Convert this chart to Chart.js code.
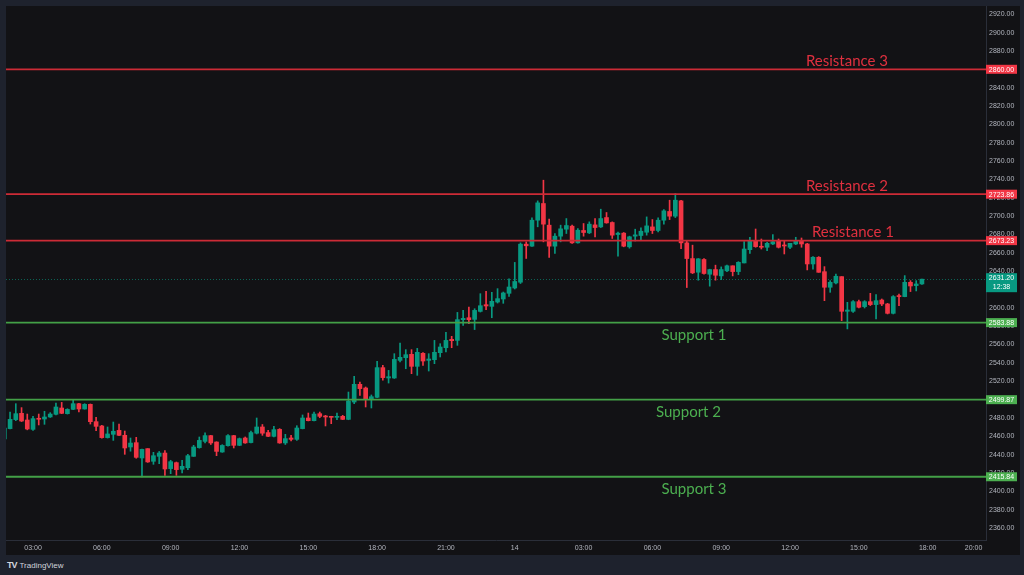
<!DOCTYPE html>
<html>
<head>
<meta charset="utf-8">
<title>Support / Resistance</title>
<script src="https://cdn.jsdelivr.net/npm/chart.js@4.4.1/dist/chart.umd.min.js"></script>
<style>
    html, body { margin: 0; padding: 0; width: 1024px; height: 575px; overflow: hidden; background: #1e222d; }
    #wrap { position: absolute; left: 6px; top: 6px; width: 1014px; height: 549px; background: #121215; }
    #footer { position: absolute; left: 7px; top: 560px; font: 8px 'Liberation Sans', Arial, sans-serif; color: #d1d4dc; }
    #footer b { font-size: 9px; letter-spacing: -1px; margin-right: 3px; }
</style>
</head>
<body>
<div id="wrap"><canvas id="chart"></canvas></div>
<div id="footer"><b>TV</b>TradingView</div>
<script>
/**=================
 * Data
 =================*/
// 15-minute slot of the first candle, counted from 00:00 on the 13th
const firstSlot = 7;

const opens = [
    2457, 2468.3, 2478.1, 2485, 2477.7, 2467.5, 2479.5, 2478.8, 2481, 2483.9,
    2490.8, 2484.6, 2489.3, 2495.5, 2489.7, 2494.8, 2475.9, 2471.2, 2458.5, 2462.1,
    2466.4, 2461, 2448.3, 2453, 2436.3, 2446.5, 2432.7, 2438.1, 2441.7, 2424.7,
    2431.2, 2424, 2425.7, 2438.1, 2447.6, 2454.4, 2460.7, 2453.7, 2442.8, 2449.7,
    2460.7, 2450.1, 2458.1, 2453.1, 2463.3, 2470.1, 2464, 2459.9, 2467.5, 2452.7,
    2458.1, 2456.6, 2468.3, 2479.9, 2477, 2484.6, 2482.1, 2481.7, 2480.6, 2481.7,
    2478.4, 2497.3, 2516.6, 2512.6, 2499.9, 2502.4, 2534.8, 2523.5, 2523.5, 2542.7,
    2545.6, 2549.3, 2536.2, 2550.4, 2542.7, 2543.5, 2551.1, 2556.5, 2565.6, 2564.5,
    2587.1, 2589.2, 2587.4, 2596.1, 2603.4, 2601.6, 2606.3, 2609.6, 2615.8, 2621.6,
    2627.9, 2669.4, 2667.2, 2695.5, 2713.7, 2690.1, 2667.2, 2678.1, 2685.7, 2689,
    2670.8, 2684.3, 2681.7, 2690.4, 2688.2, 2698.4, 2693, 2679.9, 2681.4, 2666.5,
    2678.1, 2678.8, 2682.4, 2688.2, 2684.3, 2695.5, 2705, 2699.9, 2716.6, 2670.8,
    2653.7, 2638.8, 2652.7, 2636.6, 2641.7, 2634.8, 2640.3, 2645.8, 2639.5, 2648.9,
    2663.4, 2672.5, 2667.1, 2666, 2669.6, 2672.5, 2668.5, 2666, 2669.6, 2673.2,
    2669.6, 2647.8, 2655.1, 2639.4, 2622.4, 2627.1, 2634, 2596.2, 2596.2, 2606.7,
    2601.3, 2606.7, 2603.5, 2608.5, 2604.2, 2594, 2613.3, 2612.2, 2627.8, 2624.2,
    2626
];
const highs = [
    2469, 2486.4, 2495.5, 2491.2, 2484.2, 2481.7, 2484.2, 2487.2, 2485.7, 2496.2,
    2496.9, 2490, 2499.9, 2495.8, 2495.5, 2495.2, 2480.6, 2471.9, 2470.1, 2475.5,
    2473.3, 2465.7, 2458.1, 2458.8, 2446, 2446.5, 2442.5, 2443.4, 2444.5, 2433.8,
    2431.9, 2433.8, 2440.3, 2450.1, 2459.2, 2463.6, 2461, 2454, 2450.8, 2461.8,
    2461, 2458.1, 2459.2, 2465.7, 2479.9, 2472.8, 2466.4, 2470.8, 2468.3, 2462.1,
    2461, 2471.5, 2483.2, 2485.3, 2486.4, 2486.4, 2482.8, 2481.8, 2485.3, 2482.8,
    2508.2, 2525.3, 2519.1, 2513.7, 2505, 2541.7, 2537.3, 2531.8, 2550, 2561.6,
    2554.4, 2554.4, 2555.8, 2551.1, 2550, 2564.5, 2560.9, 2573.3, 2568.9, 2595,
    2597.2, 2600.9, 2599, 2615.4, 2618, 2616.9, 2620.9, 2617.2, 2631.5, 2649.5,
    2670.8, 2671.9, 2698.1, 2716.6, 2739.1, 2696.6, 2681, 2690.1, 2697.3, 2690.1,
    2686.4, 2691.9, 2693.7, 2697.3, 2707.5, 2703.9, 2693.7, 2682.5, 2682.1, 2678.1,
    2685.7, 2687.2, 2699.1, 2696.2, 2698.1, 2707.1, 2717.3, 2724.6, 2717.3, 2673,
    2668.3, 2653.7, 2653.7, 2642.1, 2646.5, 2644.6, 2646.5, 2645.8, 2650.3, 2672.1,
    2676.9, 2685.9, 2675, 2671.4, 2679.8, 2675, 2673.2, 2670.3, 2676.9, 2676.1,
    2670.3, 2655.8, 2655.8, 2644.9, 2629.6, 2636.9, 2634, 2606, 2607.8, 2608.5,
    2607.8, 2615.8, 2614.4, 2609.6, 2604.9, 2613.3, 2615.1, 2635.1, 2629.6, 2629.6,
    2631.4
];
const lows = [
    2456, 2468, 2477, 2476, 2467, 2466.4, 2472.3, 2473, 2480.5, 2483.2,
    2484.6, 2484.2, 2489, 2486.4, 2489.5, 2473.3, 2466, 2458, 2458, 2455.5,
    2460.5, 2440.3, 2443.7, 2436, 2415.6, 2431.5, 2429.4, 2430.1, 2417.4, 2419.2,
    2417.4, 2420, 2423.6, 2438, 2447, 2452.7, 2451, 2438.8, 2442.5, 2449.3,
    2447.2, 2449.7, 2452.3, 2452.7, 2462.5, 2461, 2459.6, 2459.2, 2452.3, 2451,
    2454.8, 2455.5, 2468, 2476.7, 2476.7, 2480.2, 2471.2, 2473.7, 2478.1, 2478.1,
    2478, 2495.5, 2504.6, 2491.9, 2490.8, 2502, 2521, 2518, 2523, 2540.9,
    2533.6, 2528.2, 2526.4, 2537.3, 2531.1, 2539.1, 2546.4, 2551.8, 2556.5, 2559.1,
    2580.9, 2582.7, 2576.3, 2595.4, 2598, 2589.2, 2605.2, 2604.9, 2612.5, 2620.5,
    2626.5, 2653.8, 2667, 2688.3, 2671.9, 2654.8, 2659.2, 2671.9, 2681, 2670.1,
    2670.5, 2678.1, 2680.9, 2677.4, 2687.5, 2692.2, 2675.6, 2656.3, 2666.5, 2665,
    2672.8, 2673.7, 2679.2, 2681, 2682.8, 2691.2, 2696.2, 2698.4, 2664.6, 2622.1,
    2637.3, 2630.1, 2636.6, 2623.6, 2630.1, 2630.8, 2639.5, 2634.8, 2636.2, 2648.9,
    2659.4, 2666, 2664.1, 2662.3, 2668.9, 2665.2, 2658.7, 2664.5, 2668.9, 2666,
    2641.3, 2642, 2638.7, 2607.8, 2616.9, 2626, 2586, 2577, 2595, 2599.8,
    2599.8, 2602.4, 2587.9, 2602.4, 2593.3, 2593.3, 2602.4, 2612, 2617.7, 2618.4,
    2625.6
];
const closes = [
    2469, 2478.4, 2484.6, 2476.6, 2467.9, 2479.2, 2478.5, 2481, 2484.2, 2491.9,
    2485, 2489.3, 2495.5, 2489.7, 2494.8, 2475.9, 2470.8, 2458.5, 2462.5, 2465.4,
    2461, 2447.2, 2452.6, 2437, 2445.7, 2432, 2438.8, 2441.7, 2424.3, 2432.3,
    2423.6, 2427.2, 2438.8, 2448.3, 2455.5, 2460.7, 2452.7, 2443.5, 2450, 2460.7,
    2450.1, 2457.4, 2452.7, 2464, 2470.1, 2463.3, 2459.9, 2467.2, 2452.7, 2457.4,
    2456.6, 2469, 2479.9, 2477, 2484.2, 2481.7, 2481, 2480.6, 2481.7, 2478.4,
    2498.4, 2516.6, 2511.9, 2499.9, 2503.1, 2534.8, 2523.9, 2524.9, 2543.8, 2546,
    2548.9, 2536.2, 2551.5, 2542, 2544.2, 2551.5, 2557.3, 2564.5, 2564.2, 2587.1,
    2588.5, 2587.1, 2597.2, 2602.3, 2602, 2607.1, 2610, 2616.2, 2622.7, 2628.7,
    2669.4, 2667.6, 2695.5, 2714.4, 2691.2, 2667.2, 2678.1, 2686.1, 2689.7, 2670.8,
    2684.6, 2682.1, 2691.2, 2687.5, 2697.3, 2692.6, 2679.2, 2681.4, 2667.2, 2677.4,
    2679.5, 2683.5, 2689.3, 2684.3, 2695.5, 2705.7, 2699.9, 2717.3, 2670.8, 2653.7,
    2638.1, 2653.4, 2637.4, 2641.7, 2635.5, 2641.7, 2645.8, 2639.5, 2649.6, 2664.1,
    2672.5, 2666.7, 2666, 2670.3, 2672.1, 2666, 2667.4, 2670.3, 2673.2, 2669.6,
    2647.8, 2655.1, 2638.7, 2622.4, 2627.8, 2634.4, 2596.2, 2597.6, 2606.7, 2600.6,
    2606.7, 2603.5, 2607.8, 2604.2, 2594, 2612.2, 2612.2, 2627.8, 2623.8, 2626,
    2631.2
];

const timeTickSlots = [12, 24, 36, 48, 60, 72, 84, 96, 108, 120, 132, 144, 156, 168, 176];
const timeTickLabels = ['03:00', '06:00', '09:00', '12:00', '15:00', '18:00', '21:00', '14',
    '03:00', '06:00', '09:00', '12:00', '15:00', '18:00', '20:00'];
const priceTicks = [2360, 2380, 2400, 2420, 2440, 2460, 2480, 2500, 2520, 2540, 2560, 2580,
    2600, 2620, 2640, 2660, 2680, 2700, 2720, 2740, 2760, 2780, 2800, 2820, 2840, 2860,
    2880, 2900, 2920];

const levelNames = ['Resistance 3', 'Resistance 2', 'Resistance 1', 'Support 1', 'Support 2', 'Support 3'];
const levelValues = [2860.00, 2723.86, 2673.23, 2583.88, 2499.87, 2415.84];
const barCountdown = '12:38';

/**=================
 * Styles / layout
 =================*/
const UP = '#089981';
const DOWN = '#f23645';
const AXIS_TEXT = '#b2b5be';
const RES_LINE = '#cc2b36';
const RES_TEXT = '#e0303f';
const RES_BOX = '#f23645';
const SUP_LINE = '#43a047';
const SUP_TEXT = '#4caf50';
const SUP_BOX = '#4caf50';
// horizontal centre of each level caption, canvas pixels
const captionX = [841, 841, 847, 688, 682.5, 688];

Chart.defaults.font.family = "'Liberation Sans', Arial, sans-serif";

/**=================
 * Level lines plugin
 =================*/
const levelsPlugin = {
    id: 'levels',
    beforeDatasetsDraw(chart) {
        const { ctx, chartArea, scales: { y } } = chart;
        const py = Math.round(y.getPixelForValue(closes[closes.length - 1])) + 0.5;
        ctx.save();
        ctx.strokeStyle = 'rgba(8, 153, 129, 0.6)';
        ctx.lineWidth = 1;
        ctx.setLineDash([1, 2]);
        ctx.beginPath();
        ctx.moveTo(chartArea.left, py);
        ctx.lineTo(chartArea.right, py);
        ctx.stroke();
        ctx.restore();
    },
    afterDatasetsDraw(chart) {
        const { ctx, chartArea, scales: { y } } = chart;
        ctx.save();
        levelNames.forEach((name, i) => {
            const isRes = name.startsWith('Resistance');
            const py = y.getPixelForValue(levelValues[i]);
            ctx.strokeStyle = isRes ? RES_LINE : SUP_LINE;
            ctx.lineWidth = 1.8;
            ctx.beginPath();
            ctx.moveTo(chartArea.left, py);
            ctx.lineTo(chartArea.right, py);
            ctx.stroke();

            ctx.fillStyle = isRes ? RES_TEXT : SUP_TEXT;
            ctx.font = "15px Lato, 'Liberation Sans', sans-serif";
            ctx.textAlign = 'center';
            ctx.textBaseline = 'middle';
            ctx.fillText(name, captionX[i], py + (isRes ? -8.5 : 12.5));
        });
        ctx.restore();
    },
    afterDraw(chart) {
        const { ctx, chartArea, scales: { y } } = chart;
        const left = chartArea.right;
        const w = 31;
        ctx.save();
        ctx.font = "7px 'Liberation Sans', Arial, sans-serif";
        ctx.textAlign = 'center';
        ctx.textBaseline = 'middle';

        levelNames.forEach((name, i) => {
            const py = y.getPixelForValue(levelValues[i]);
            ctx.fillStyle = name.startsWith('Resistance') ? RES_BOX : SUP_BOX;
            ctx.fillRect(left, py - 4.5, w, 9);
            ctx.fillStyle = '#ffffff';
            ctx.fillText(levelValues[i].toFixed(2), left + w / 2, py + 0.5);
        });

        // last price + countdown
        const last = closes[closes.length - 1];
        const py = y.getPixelForValue(last);
        ctx.fillStyle = UP;
        ctx.fillRect(left, py - 6, w, 19);
        ctx.fillStyle = '#ffffff';
        ctx.fillText(last.toFixed(2), left + w / 2, py - 1);
        ctx.fillText(barCountdown, left + w / 2, py + 7.5);
        ctx.restore();
    }
};

/**=================
 * Candles
 =================*/
const candleColors = closes.map((c, k) => (c >= opens[k] ? UP : DOWN));

const ctx = document.getElementById('chart');
const chart = new Chart(ctx, {
    type: 'bar',
    data: {
        datasets: [
            {
                label: 'Wicks',
                data: lows.map((l, k) => ({ x: firstSlot + k, y: [l, highs[k]] })),
                backgroundColor: candleColors,
                barThickness: 1,
                grouped: false
            },
            {
                label: 'Bodies',
                data: opens.map((o, k) => ({ x: firstSlot + k, y: [o, closes[k]] })),
                backgroundColor: candleColors,
                barThickness: 4,
                minBarLength: 1,
                grouped: false
            }
        ]
    },
    options: {
        responsive: true,
        maintainAspectRatio: false,
        animation: false,
        events: [],
        layout: { padding: 0 },
        plugins: {
            legend: { display: false },
            tooltip: { enabled: false }
        },
        scales: {
            x: {
                type: 'linear',
                min: 7.29,
                max: 178.17,
                offset: false,
                grid: { display: false, drawTicks: false, offset: false },
                border: { display: true, color: '#2a2e39' },
                ticks: {
                    color: AXIS_TEXT,
                    font: { size: 7 },
                    padding: 4,
                    autoSkip: false,
                    maxRotation: 0,
                    callback: (value, index) => timeTickLabels[index]
                },
                afterBuildTicks: scale => {
                    scale.ticks = timeTickSlots.map(v => ({ value: v }));
                },
                afterFit: scale => {
                    scale.height = 15;
                    scale.paddingLeft = 0;
                    scale.paddingRight = 0;
                }
            },
            y: {
                position: 'right',
                min: 2346.9,
                max: 2929.0,
                grid: { display: false, drawTicks: false },
                border: { display: true, color: '#2a2e39' },
                ticks: {
                    color: AXIS_TEXT,
                    font: { size: 7 },
                    crossAlign: 'center',
                    autoSkip: false,
                    callback: value => value.toFixed(2)
                },
                afterBuildTicks: scale => {
                    scale.ticks = priceTicks.map(v => ({ value: v }));
                },
                afterFit: scale => {
                    scale.width = 34;
                    scale.paddingTop = 0;
                    scale.paddingBottom = 0;
                }
            }
        }
    },
    plugins: [levelsPlugin]
});
</script>
</body>
</html>
